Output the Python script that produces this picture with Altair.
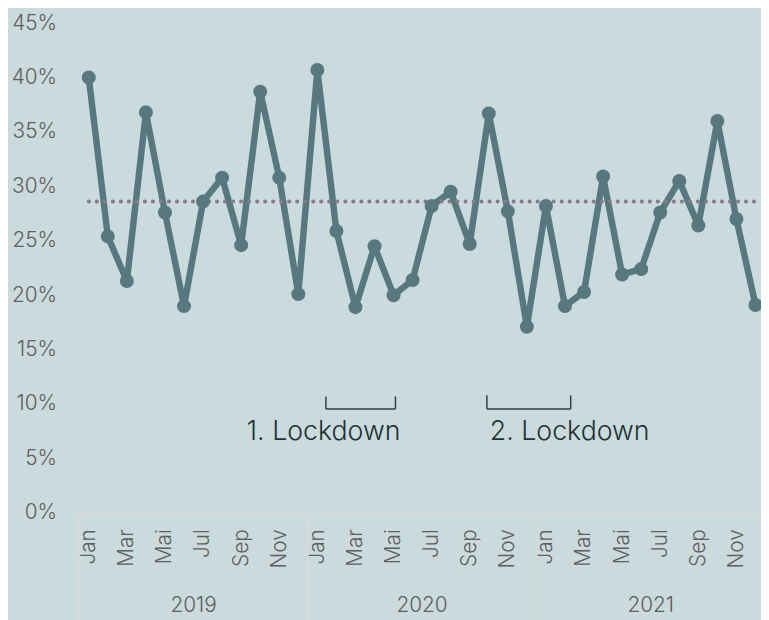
import altair as alt
import pandas as pd

# ---- data ----
months = ["Jan", "Feb", "Mar", "Apr", "Mai", "Jun", "Jul", "Aug", "Sep", "Okt", "Nov", "Dez"]
years = [2019, 2020, 2021]
share_2019 = [40.0, 25.4, 21.3, 36.8, 27.6, 19.0, 28.6, 30.8, 24.6, 38.7, 30.8, 20.1]
share_2020 = [40.7, 25.9, 18.9, 24.5, 20.0, 21.4, 28.2, 29.5, 24.7, 36.7, 27.7, 17.1]
share_2021 = [28.2, 19.0, 20.3, 30.9, 21.9, 22.4, 27.6, 30.5, 26.4, 36.0, 27.0, 19.1]
reference_level = [28.6]
y_ticks = [0, 5, 10, 15, 20, 25, 30, 35, 40, 45]
month_tick_idx = list(range(0, 36, 2))

lockdown_labels = ["1. Lockdown", "2. Lockdown"]
lockdown_start = [12.45, 20.9]   # month index (0 = Jan 2019)
lockdown_end = [16.1, 25.3]
bracket_top = [10.7, 10.8]
bracket_bottom = [9.55, 9.55]
label_level = [7.4, 7.4]

# ---- build tables ----
series = share_2019 + share_2020 + share_2021
df = pd.DataFrame({
    "idx": list(range(len(series))),
    "value": series,
})
mean_df = pd.DataFrame({"x0": [0], "x1": [len(series) - 1], "y": reference_level})
sep_df = pd.DataFrame({"sx": [-0.5 + 12 * k for k in range(len(years) + 1)]})
year_df = pd.DataFrame({"yx": [5.5 + 12 * k for k in range(len(years))], "year": [str(y) for y in years]})
lock_df = pd.DataFrame({
    "label": lockdown_labels,
    "lstart": lockdown_start,
    "lend": lockdown_end,
    "btop": bracket_top,
    "bbot": bracket_bottom,
    "ly": label_level,
})

BG = "#cbdadd"
LINE = "#57787e"
GRID = "#d6dadb"
TXT = "#5e5e5e"
FONT = "Inter"

xscale = alt.Scale(domain=[-0.5, 35.29], nice=False, zero=False)
yscale = alt.Scale(domain=[0, 45], nice=False)

month_expr = "[" + ",".join("'%s'" % m for m in months) + "][datum.value % 12]"

x_axis = alt.Axis(
    values=month_tick_idx, labelExpr=month_expr, labelAngle=270, labelAlign="right",
    labelBaseline="middle", labelPadding=16, ticks=False, grid=False,
    domainColor=GRID, domainWidth=2, labelFont=FONT, labelFontSize=21,
    labelFontWeight=300, labelColor=TXT, title=None, labelOverlap=False,
    labelFlush=False,
)
y_axis = alt.Axis(
    values=y_ticks, labelExpr="datum.value + '%'", ticks=False, domain=False, grid=False,
    labelPadding=23, labelFont=FONT, labelFontSize=21, labelFontWeight=300,
    labelColor=TXT, title=None,
)

mean_rule = alt.Chart(mean_df).mark_rule(
    color="#857c87", strokeWidth=4, strokeDash=[0.1, 8], strokeCap="round"
).encode(
    x=alt.X("x0:Q", scale=xscale),
    x2="x1:Q",
    y=alt.Y("y:Q", scale=yscale),
)

line = alt.Chart(df).mark_line(color=LINE, strokeWidth=6.5, strokeJoin="round", strokeCap="round").encode(
    x=alt.X("idx:Q", scale=xscale, axis=x_axis),
    y=alt.Y("value:Q", scale=yscale, axis=y_axis),
)
dots = alt.Chart(df).mark_circle(color=LINE, size=200, opacity=1).encode(
    x=alt.X("idx:Q", scale=xscale),
    y=alt.Y("value:Q", scale=yscale),
)

BR = "#2f3f42"
br_left = alt.Chart(lock_df).mark_rule(color=BR, strokeWidth=1.5).encode(
    x=alt.X("lstart:Q", scale=xscale), y=alt.Y("bbot:Q", scale=yscale), y2="btop:Q")
br_right = alt.Chart(lock_df).mark_rule(color=BR, strokeWidth=1.5).encode(
    x=alt.X("lend:Q", scale=xscale), y=alt.Y("bbot:Q", scale=yscale), y2="btop:Q")
br_bottom = alt.Chart(lock_df).mark_rule(color=BR, strokeWidth=1.5).encode(
    x=alt.X("lstart:Q", scale=xscale), x2="lend:Q", y=alt.Y("bbot:Q", scale=yscale))

lab1 = alt.Chart(lock_df).transform_filter(alt.datum.label == lockdown_labels[0]).mark_text(
    align="right", baseline="middle", font=FONT, fontSize=27, fontWeight=300, color="#1f3336", dx=5
).encode(x=alt.X("lend:Q", scale=xscale), y=alt.Y("ly:Q", scale=yscale), text="label:N")
lab2 = alt.Chart(lock_df).transform_filter(alt.datum.label == lockdown_labels[1]).mark_text(
    align="left", baseline="middle", font=FONT, fontSize=27, fontWeight=300, color="#1f3336", dx=3
).encode(x=alt.X("lstart:Q", scale=xscale), y=alt.Y("ly:Q", scale=yscale), text="label:N")

seps = alt.Chart(sep_df).mark_rule(color=GRID, strokeWidth=2).encode(
    x=alt.X("sx:Q", scale=xscale), y=alt.value(495), y2=alt.value(620))
year_text = alt.Chart(year_df).mark_text(
    align="center", baseline="middle", font=FONT, fontSize=21, fontWeight=300, color=TXT
).encode(x=alt.X("yx:Q", scale=xscale), y=alt.value(589), text="year:N")

chart = alt.layer(
    line, seps, mean_rule, dots, br_left, br_right, br_bottom, lab1, lab2, year_text
).properties(
    width=689, height=495,
    autosize=alt.AutoSizeParams(type="none"),
    padding={"left": 72, "top": 12, "right": 0, "bottom": 105},
    background=BG,
).configure_view(stroke=None)

chart.save("out.html", embed_options={"renderer": "svg", "actions": False})
